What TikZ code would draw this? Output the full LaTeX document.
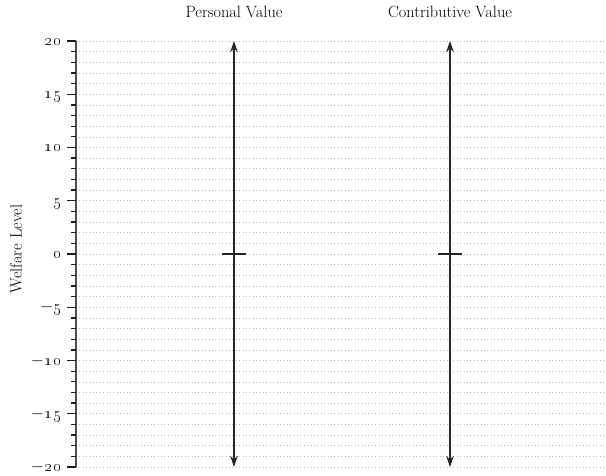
\documentclass[tikz,border=0pt]{standalone}
\usepackage{fix-cm}
\usetikzlibrary{arrows.meta}
\tikzset{
  gridline/.style={gray!55, line width=0.6pt, dash pattern=on 0.8pt off 2.6pt},
  axisline/.style={gray!60!black, line width=1.8pt},
  tickline/.style={gray!20!black, line width=1.3pt},
  valarrow/.style={black!85, line width=1.7pt, {Stealth[length=11pt,width=7.5pt]}-{Stealth[length=11pt,width=7.5pt]}},
  zerobar/.style={black!85, line width=1.6pt},
  title/.style={font=\fontsize{16.3}{19}\selectfont, anchor=base},
  ticklabel/.style={font=\fontsize{17}{19}\selectfont, anchor=base east, inner sep=0pt}
}
\newcommand\osn[1]{\oldstylenums{#1}}
\begin{document}
\begin{tikzpicture}[x=1pt,y=-1pt]
\useasboundingbox (0,0) rectangle (606,476);
\def\yof#1{254-10.65*(#1)}
% grid
\foreach \v in {-20,...,20}{
  \draw[gridline] (76,{\yof{\v}}) -- (606,{\yof{\v}});
}
% axis
\coordinate (axtop) at (76,{\yof{20}});
\coordinate (axbot) at (76,{\yof{-20}});
\draw[axisline] (axtop) -- (axbot);
\foreach \v in {-20,...,20}{
  \draw[tickline] (71,{\yof{\v}}) -- (76,{\yof{\v}});
}
\foreach \v in {-20,-15,-10,-5,0,5,10,15,20}{
  \draw[tickline] (67,{\yof{\v}}) -- (76,{\yof{\v}});
}
\foreach \v/\t in {20/\osn{2}\kern1.2pt\osn{0},15/\osn{1}\kern1.2pt\osn{5},10/\osn{1}\kern1.2pt\osn{0},5/\osn{5},0/\osn{0},-5/$-$\kern0.5pt\osn{5},-10/$-$\kern0.5pt\osn{1}\kern1.2pt\osn{0},-15/$-$\kern0.5pt\osn{1}\kern1.2pt\osn{5},-20/$-$\kern0.5pt\osn{2}\kern1.2pt\osn{0}}{
  \node[ticklabel] (lab\v) at (62,{\yof{\v}+4.5}) {\t};
}
\node[rotate=90, font=\fontsize{16.3}{19}\selectfont] (ylab) at (16,249) {Welfare Level};
% titles
\node[title] (tp) at (234,18) {Personal Value};
\node[title] (tc) at (450,18) {Contributive Value};
% arrows
\coordinate (ptop) at (234,{\yof{20}});
\coordinate (pbot) at (234,{\yof{-20}});
\coordinate (ctop) at (450,{\yof{20}});
\coordinate (cbot) at (450,{\yof{-20}});
\draw[valarrow] (pbot) -- (ptop);
\draw[valarrow] (cbot) -- (ctop);
\coordinate (pz1) at (222,254);
\coordinate (pz2) at (246,254);
\coordinate (cz1) at (438,254);
\coordinate (cz2) at (462,254);
\draw[zerobar] (pz1) -- (pz2);
\draw[zerobar] (cz1) -- (cz2);
\end{tikzpicture}
\end{document}
